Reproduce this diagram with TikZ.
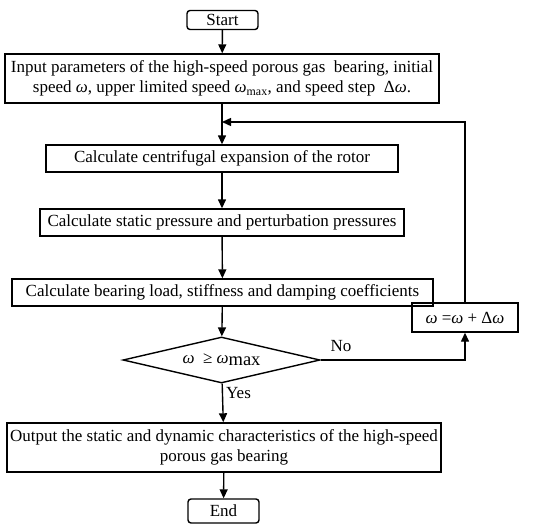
\documentclass[tikz,border=0pt]{standalone}
\usepackage{fontspec}
\setmainfont{Liberation Serif}
\usetikzlibrary{arrows.meta,shapes.geometric}

\newcommand{\om}{\textit{ω}}
\tikzset{
  proc/.style={draw, rectangle, inner sep=0pt, align=center},
  term/.style={draw, rectangle, rounded corners=3pt, inner sep=0pt},
  decide/.style={draw, diamond, aspect=4.3, inner sep=0pt, minimum width=197pt, minimum height=46pt},
  flow/.style={-{Triangle[length=9pt,width=8pt]}},
}

\begin{document}
\begin{tikzpicture}[line width=1.4pt, x=1pt, y=-1pt, font=\fontsize{17}{20.5}\selectfont]
  \useasboundingbox (0,0) rectangle (550,528);
  \node[term, minimum width=71pt, minimum height=19pt] (start) at (222.5,20) {Start};
  \node[proc, minimum width=434pt, minimum height=49pt] (input) at (222,78.5)
    {Input parameters of the high-speed porous gas \ bearing, initial\\
     speed \om, upper limited speed \om\textsubscript{max}, and speed step \ Δ\om.};
  \node[proc, minimum width=352pt, minimum height=27pt] (expand) at (222,158.5) {Calculate centrifugal expansion of the rotor};
  \node[proc, minimum width=364pt, minimum height=27pt] (press) at (222,222.5) {Calculate static pressure and perturbation pressures};
  \node[proc, minimum width=421pt, minimum height=27pt] (coeff) at (222.5,292.5) {Calculate bearing load, stiffness and damping coefficients};
  \node[decide] (check) at (221.5,360) {\om\ \ ≥ \om\raisebox{-0.3ex}{\fontsize{18.5}{20}\selectfont max}};
  \node[proc, minimum width=106pt, minimum height=29pt] (update) at (465,317.5) {\om\ =\om\ + Δ\om};
  \node[proc, minimum width=434pt, minimum height=49pt] (output) at (224,447.5)
    {Output the static and dynamic characteristics of the high-speed\\ porous gas bearing};
  \node[term, minimum width=71pt, minimum height=24pt] (end) at (223.5,511) {End};
  \coordinate (join) at (222,122);                        % loop re-entry

  \draw[flow] (start) -- (input);
  \draw[flow] (input) -- (expand);
  \draw[flow] (expand) -- (press);
  \draw[flow] (press) -- (coeff);
  \draw[flow] (coeff) -- (check);
  \draw[flow] (check) -- node[pos=0.25, right, inner sep=3pt] {Yes} (output);
  \draw[flow] (output) -- (end);
  \draw[flow] (check.east) -- node[above, pos=0.14, yshift=4pt] {No} (check.east -| update.south) -- (update.south);
  \draw[flow] (update.north) |- (join);
\end{tikzpicture}
\end{document}
